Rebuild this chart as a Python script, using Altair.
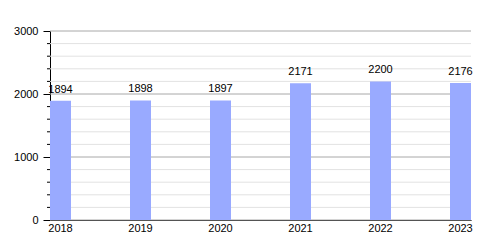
import altair as alt
import pandas as pd

years = ["2018", "2019", "2020", "2021", "2022", "2023"]
values = [1894, 1898, 1897, 2171, 2200, 2176]
minor_vals = [v for v in range(200, 3000, 200) if v % 1000 != 0]
major_vals = [0, 1000, 2000, 3000]

df = pd.DataFrame({"year": years, "value": values})
minor_df = pd.DataFrame({"value": minor_vals})
major_df = pd.DataFrame({"value": major_vals})

FONT = "Liberation Sans"
yscale = alt.Scale(domain=[0, 3000], nice=False, zero=True)
xscale = alt.Scale(domain=years, paddingInner=0.7375, paddingOuter=0, align=0)
yaxis = alt.Axis(title=None, values=major_vals, grid=False, tickSize=7, format="d",
                 tickColor="black", domainColor="black", labelFont=FONT,
                 labelFontSize=11, labelColor="black", labelPadding=5)
Y = alt.Y("value:Q", scale=yscale, axis=yaxis)

minor_grid = alt.Chart(minor_df).mark_rule(color="#e2e2e2", strokeWidth=1).encode(
    y=Y, x=alt.value(0), x2=alt.value(421),
)
major_grid = alt.Chart(major_df).mark_rule(color="#a8a8a8", strokeWidth=1).encode(
    y=Y, x=alt.value(0), x2=alt.value(421),
)
minor_ticks = alt.Chart(minor_df).mark_rule(color="black", strokeWidth=1).encode(
    y=Y, x=alt.value(-3), x2=alt.value(0),
)

xaxis = alt.Axis(title=None, labelAngle=0, ticks=False, domainColor="black",
                 labelFont=FONT, labelFontSize=11, labelColor="black",
                 labelPadding=2, domainWidth=1)
bars = alt.Chart(df).mark_bar(color="#99aaff").encode(
    x=alt.X("year:N", scale=xscale, sort=years, axis=xaxis),
    y=Y,
)
labels = alt.Chart(df).mark_text(font=FONT, fontSize=11, color="black", dy=-6,
                                 baseline="bottom").encode(
    x=alt.X("year:N", scale=xscale, sort=years, axis=xaxis),
    y=Y,
    text="value:Q",
)

chart = alt.layer(minor_grid, major_grid, bars, labels, minor_ticks).properties(
    width=421, height=189,
    autosize=alt.AutoSizeParams(type="none"),
    padding={"left": 50, "top": 31, "right": 29, "bottom": 30},
).configure_view(stroke=None)

chart.save("out.html", embed_options={"renderer": "svg", "actions": False})
